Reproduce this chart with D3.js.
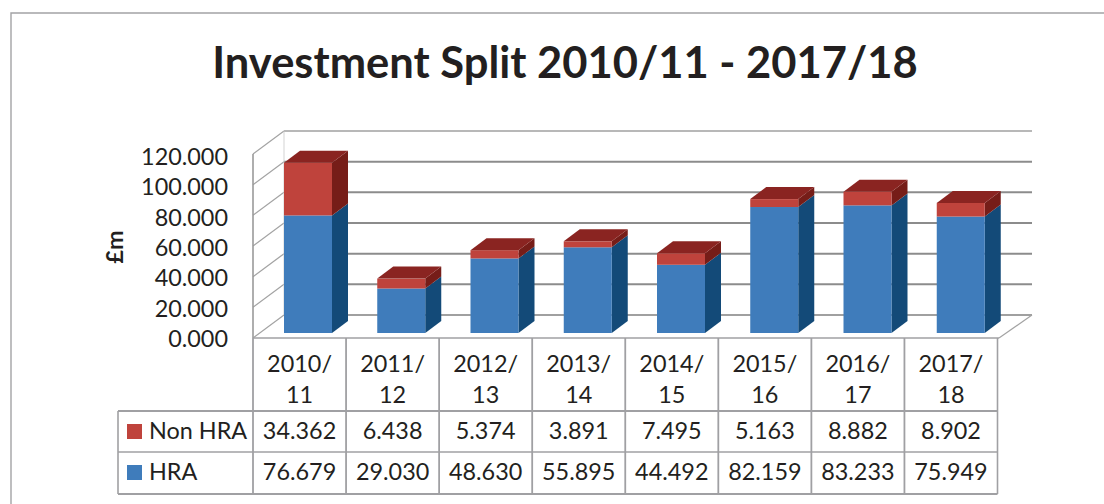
<!DOCTYPE html>
<html><head><meta charset="utf-8">
<style>html,body{margin:0;padding:0;background:#fff}svg{display:block}text{font-family:"Lato","Open Sans",sans-serif;fill:#231f20}</style>
<script src="https://cdnjs.cloudflare.com/ajax/libs/d3/7.8.5/d3.min.js"></script></head>
<body><svg id="c" width="1104" height="504"></svg>
<script>
const categories=["2010/11","2011/12","2012/13","2013/14","2014/15","2015/16","2016/17","2017/18"];
const categoryLine1=["2010/","2011/","2012/","2013/","2014/","2015/","2016/","2017/"];
const categoryLine2=["11","12","13","14","15","16","17","18"];
const nonHra=[34.362,6.438,5.374,3.891,7.495,5.163,8.882,8.902];
const hra=[76.679,29.030,48.630,55.895,44.492,82.159,83.233,75.949];
const nonHraLabels=["34.362","6.438","5.374","3.891","7.495","5.163","8.882","8.902"];
const hraLabels=["76.679","29.030","48.630","55.895","44.492","82.159","83.233","75.949"];
const ticks=[0,20,40,60,80,100,120];
const svg=d3.select("#c");
const grid="#8c8c8c", tbl="#a0a0a3";
const L=253,R=999,Fy=338,Ty=154,DX=31,DY=-23;
const y=d3.scaleLinear().domain([0,120]).range([Fy,Ty]);
const yLabel=d3.scaleLinear().domain([0,120]).range([347,165]);
const x=d3.scaleBand().domain(categories).range([L,R]);
const xT=d3.scaleBand().domain(categories).range([L,997.5]);
function line(a,b,c,d,col,w){svg.append("line").attr("x1",a).attr("y1",b).attr("x2",c).attr("y2",d).attr("stroke",col).attr("stroke-width",w);}
// chart border (open on the right, runs off the page)
svg.append("path").attr("d","M11,504V13H1104").attr("fill","none").attr("stroke","#a3a3a5").attr("stroke-width",1.4);
// title
svg.append("text").attr("x",565).attr("y",78).attr("text-anchor","middle").attr("font-size",43.5).attr("font-weight",700).text("Investment Split 2010/11 - 2017/18");
// walls
ticks.forEach(t=>{
  line(L,y(t),L+DX,y(t)+DY,"#a3a3a3",1.2);
  line(L+DX,y(t)+DY,R+DX+2,y(t)+DY,t===120||t===0?"#a0a0a0":grid,t===120?1.4:2);
});
line(L,y(0),L,y(120),"#9a9a9a",1.6);
line(L+DX,y(120)+DY,L+DX,y(0)+DY,"#c8c8c8",.8);
line(R,y(0),R+DX+2,y(0)+DY,"#a3a3a3",1.2);
// y labels
ticks.forEach(t=>svg.append("text").attr("x",228).attr("y",yLabel(t)).attr("text-anchor","end").attr("font-size",23.4).text(d3.format(".3f")(t)));
svg.append("text").attr("transform","translate(123,247) rotate(-90)").attr("text-anchor","middle").attr("font-size",23.5).attr("font-weight",700).text("£m");
// bars
const base=333,BD=16,BY=-12;
const off=31,bw=48;
function box(i,v0,v1,cF,cS,cT){
  const X=x(categories[i])+off,y0=y(v0)-(Fy-base),y1=y(v1)-(Fy-base);
  svg.append("path").attr("d",`M${X+bw},${y1}l${BD},${BY}V${y0+BY}L${X+bw},${y0}Z`).attr("fill",cS);
  svg.append("rect").attr("x",X).attr("y",y1).attr("width",bw).attr("height",y0-y1).attr("fill",cF);
  if(cT)svg.append("path").attr("d",`M${X},${y1}l${BD},${BY}h${bw}l${-BD},${-BY}Z`).attr("fill",cT);
}
categories.forEach((c,i)=>{
  box(i,0,hra[i],"#3f7cbb","#134a78");
  box(i,hra[i],hra[i]+nonHra[i],"#bf433c","#761d18","#8a2421");
});
// table
const rows=[338,411,452,494],TL=118,TR=997.5;
line(L,rows[0],R,rows[0],tbl,1.6);
line(TL,rows[1],TR,rows[1],tbl,2);
line(TL,rows[2],TR,rows[2],tbl,1.6);
line(TL,rows[3],TR,rows[3],tbl,2);
line(TL,rows[1],TL,rows[3],tbl,1.6);
categories.forEach(c=>line(xT(c),rows[0],xT(c),rows[3],tbl,1.8));
line(TR,rows[0],TR,rows[3],tbl,1.6);
categories.forEach((c,i)=>{
  const cx=xT(c)+xT.bandwidth()/2;
  const t=(s,yy)=>svg.append("text").attr("x",cx).attr("y",yy).attr("text-anchor","middle").attr("font-size",23.4).text(s);
  t(categoryLine1[i],371.5);t(categoryLine2[i],403);t(nonHraLabels[i],438.5);t(hraLabels[i],480);
});
[["Non HRA","#bf433c",424,438.5],["HRA","#3f7cbb",465,480]].forEach(d=>{
  svg.append("rect").attr("x",127).attr("y",d[2]).attr("width",15).attr("height",15).attr("fill",d[1]);
  svg.append("text").attr("x",149).attr("y",d[3]).attr("font-size",23.4).text(d[0]);
});
</script></body></html>
